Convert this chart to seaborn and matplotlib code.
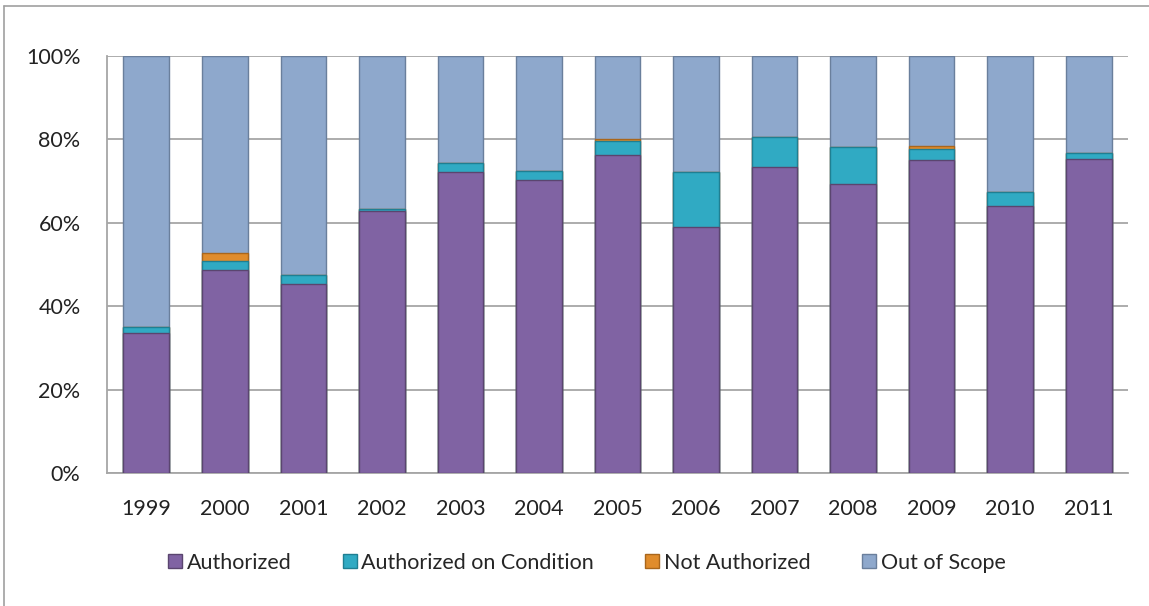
import numpy as np
import pandas as pd
import matplotlib
matplotlib.use("Agg")
import matplotlib.pyplot as plt
from matplotlib.lines import Line2D
from matplotlib.ticker import PercentFormatter
import seaborn as sns

years = ["1999", "2000", "2001", "2002", "2003", "2004", "2005",
         "2006", "2007", "2008", "2009", "2010", "2011"]
# shares in percent
authorized = [33.5, 48.8, 45.3, 62.9, 72.3, 70.3, 76.3, 58.9, 73.3, 69.3, 75.1, 64.0, 75.3]
auth_on_condition = [1.6, 2.0, 2.2, 0.3, 2.0, 2.2, 3.4, 13.2, 7.3, 8.8, 2.5, 3.3, 1.4]
not_authorized = [0.0, 2.0, 0.0, 0.0, 0.0, 0.0, 0.3, 0.0, 0.0, 0.0, 0.9, 0.0, 0.0]
out_of_scope = [100 - a - b - c for a, b, c in zip(authorized, auth_on_condition, not_authorized)]

names = ["Authorized", "Authorized on Condition", "Not Authorized", "Out of Scope"]
colors = ["#8063a3", "#30aac3", "#e08c2c", "#8ea8cc"]
edges = ["#5a456f", "#1f7f92", "#a9661c", "#6a7f9c"]

df = pd.DataFrame({
    "year": years,
    "Authorized": authorized,
    "Authorized on Condition": auth_on_condition,
    "Not Authorized": not_authorized,
    "Out of Scope": out_of_scope,
})
# cumulative tops so the stacks can be drawn back to front
cum = df[names].cumsum(axis=1) / 100.0

sns.set_style("white")
plt.rcParams['font.family'] = ['Lato', 'DejaVu Sans']

fig = plt.figure(figsize=(11.49, 6.06), dpi=100)
ax = fig.add_axes([107 / 1149, 133 / 606, 1021 / 1149, 417 / 606])

for i in range(len(names) - 1, -1, -1):
    sns.barplot(x=df["year"], y=cum[names[i]], color=colors[i], width=0.58,
                edgecolor=edges[i], linewidth=1.0, saturation=1, ax=ax, zorder=3)

ax.set_ylim(0, 1)
ax.set_xlim(-0.5, len(years) - 0.5)
ax.set_yticks(np.arange(0, 1.01, 0.2))
ax.yaxis.set_major_formatter(PercentFormatter(1.0, decimals=0))
ax.yaxis.grid(True, color="#a6a6a6", linewidth=1.3, zorder=0)
ax.set_axisbelow(True)
for s in ["top", "right"]:
    ax.spines[s].set_visible(False)
for s in ["left", "bottom"]:
    ax.spines[s].set_color("#a6a6a6")
    ax.spines[s].set_linewidth(1.3)
ax.set_xlabel("")
ax.set_ylabel("")
ax.tick_params(axis="both", labelsize=15.5, colors="#222222", length=0)
ax.tick_params(axis="y", pad=19)
ax.tick_params(axis="x", pad=19)

handles = [Line2D([], [], marker="s", linestyle="none", markersize=10,
                  markerfacecolor=c, markeredgecolor=e) for c, e in zip(colors, edges)]
fig.legend(handles, names, loc="center", bbox_to_anchor=(0.51, 0.071), ncol=4,
           frameon=False, fontsize=15.5, handletextpad=0.15, columnspacing=2.3,
           handlelength=0.8)

# outer frame of the original figure
fig.add_artist(Line2D([4 / 1149, 4 / 1149], [0, 1 - 6 / 606], transform=fig.transFigure,
                      color="#a0a0a0", linewidth=1.2))
fig.add_artist(Line2D([4 / 1149, 1], [1 - 6 / 606, 1 - 6 / 606], transform=fig.transFigure,
                      color="#a0a0a0", linewidth=1.2))

fig.savefig("out.png", dpi=100)
